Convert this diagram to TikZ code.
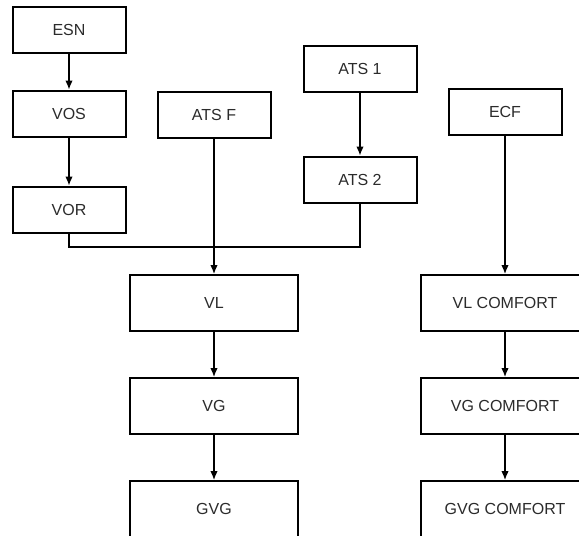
\documentclass[tikz,border=0pt]{standalone}
\usepackage{fontspec}
\setmainfont{Liberation Sans}
\usetikzlibrary{arrows.meta}
\definecolor{txt}{HTML}{2B2B2B}
\tikzset{
  smallbox/.style={draw=black, line width=2pt, fill=white, minimum width=113pt, minimum height=46pt, inner sep=0pt, font=\fontsize{16}{19}\selectfont, text=txt},
  bigbox/.style={smallbox, minimum width=168pt, minimum height=56pt},
  link/.style={draw=black, line width=1.3pt},
  arr/.style={link, -{Latex[length=9pt,width=7.5pt]}}
}
\begin{document}
\begin{tikzpicture}[x=1pt,y=-1pt]
  \useasboundingbox (0,0) rectangle (579,536);
  \clip (0,0) rectangle (579,536);
  % upper chain
  \node[smallbox] (esn) at (69,29.5) {ESN};
  \node[smallbox] (vos) at (69,113.5) {VOS};
  \node[smallbox] (vor) at (69,209.5) {VOR};
  \node[smallbox] (atsf) at (214,115) {ATS F};
  \node[smallbox] (ats1) at (360,69) {ATS 1};
  \node[smallbox] (ats2) at (360,179.5) {ATS 2};
  \node[smallbox] (ecf) at (505,111.5) {ECF};
  % lower columns
  \node[bigbox] (vl) at (214,303) {VL};
  \node[bigbox] (vg) at (214,406) {VG};
  \node[bigbox] (gvg) at (214,509) {GVG};
  \node[bigbox] (vlc) at (505,303) {VL COMFORT};
  \node[bigbox] (vgc) at (505,406) {VG COMFORT};
  \node[bigbox] (gvgc) at (505,509) {GVG COMFORT};
  % connectors
  \draw[arr] (esn) -- (vos);
  \draw[arr] (vos) -- (vor);
  \draw[arr] (ats1) -- (ats2);
  \coordinate (join) at (69,247);
  \draw[link] (vor.south) -- (join) -| (ats2.south);
  \draw[arr] (atsf.south) -- (atsf.south |- vl.north);
  \draw[arr] (ecf.south) -- (ecf.south |- vlc.north);
  \draw[arr] (vl) -- (vg);
  \draw[arr] (vg) -- (gvg);
  \draw[arr] (vlc) -- (vgc);
  \draw[arr] (vgc) -- (gvgc);
\end{tikzpicture}
\end{document}
